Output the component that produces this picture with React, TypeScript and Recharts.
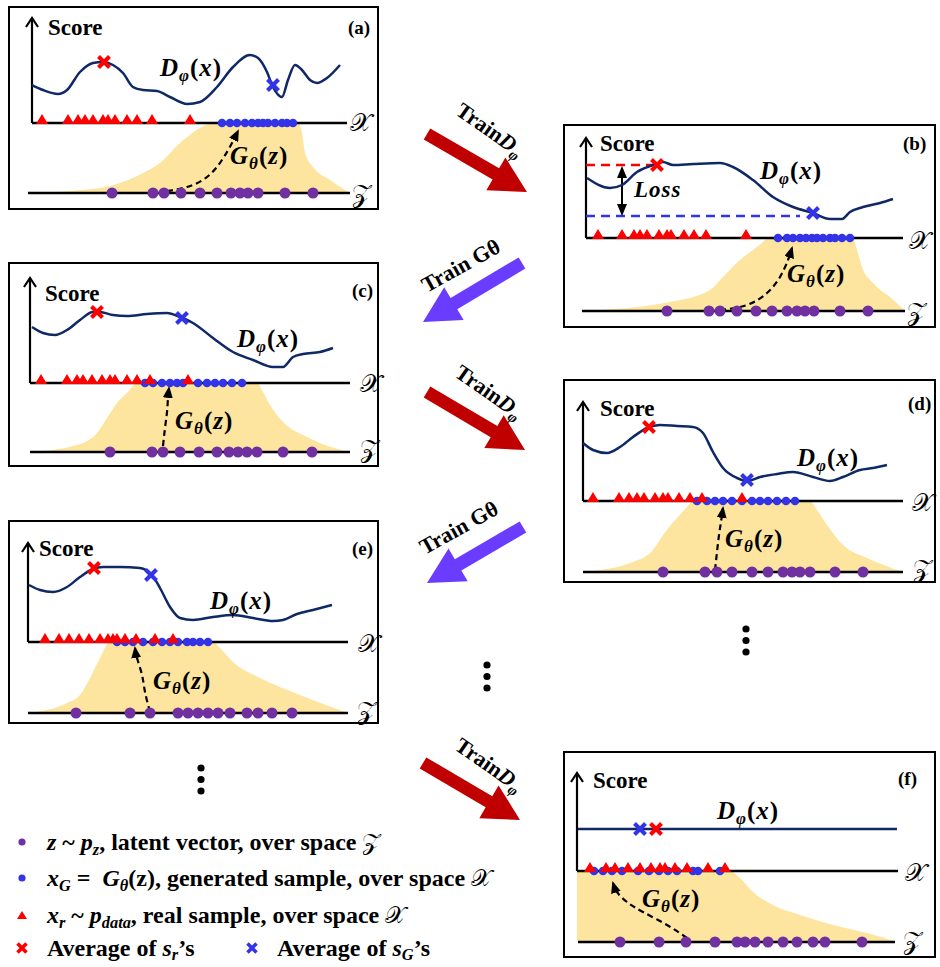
import React from 'react';
import { ComposedChart, XAxis, YAxis, Line, Area, Scatter } from 'recharts';

type Pair = [number, number];

// positions are along the X space line (x) and height above the Z line (y)

// panel (a)
const curveA: Pair[] = [[0, 108], [11, 103], [26, 99], [35, 103], [48, 121], [61, 130], [71, 131], [81, 128], [91, 120], [101, 106], [111, 103], [125, 102], [138, 96], [155, 89], [168, 91], [185, 106], [201, 126], [218, 138], [226, 135], [235, 121], [241, 106], [250, 96], [256, 113], [263, 128], [270, 123], [278, 113], [285, 110], [295, 115], [308, 128]];
const areaA: Pair[] = [[-4, 0], [68, 5], [111, 20], [128, 30], [148, 50], [168, 65], [181, 70], [266, 70], [270, 60], [273, 40], [281, 26], [298, 13], [318, 0]];
const realA = [10, 36, 46, 53, 61, 71, 76, 83, 95, 105, 120, 158];
const genA = [190, 198, 205, 213, 220, 226, 231, 236, 243, 250, 255, 261];
const latentA = [80, 121, 132, 149, 168, 185, 199, 208, 216, 226, 253, 281];
const mapA: Pair[] = [[135, 2], [155, 6], [175, 16], [190, 33], [200, 50], [206, 62]];

// panel (b)
const curveB: Pair[] = [[1, 133], [24, 123], [36, 126], [51, 139], [67, 146], [77, 149], [87, 146], [107, 147], [134, 148], [147, 144], [167, 131], [187, 114], [207, 104], [227, 98], [244, 92], [256, 92], [264, 99], [277, 104], [294, 108], [307, 112]];
const areaB: Pair[] = [[-4, 0], [84, 9], [124, 21], [137, 34], [154, 51], [171, 64], [184, 73], [267, 73], [271, 61], [276, 44], [287, 28], [304, 14], [319, 0]];
const realB = [12, 36, 48, 54, 61, 73, 81, 85, 98, 108, 120, 160];
const genB = [192, 201, 207, 214, 220, 226, 231, 237, 244, 249, 256, 264];
const latentB = [81, 123, 134, 151, 170, 186, 201, 211, 219, 228, 254, 282];
const mapB: Pair[] = [[134, 1], [161, 6], [181, 18], [194, 34], [202, 51], [206, 63]];
const realLevelB: Pair[] = [[0, 146], [71, 146]];
const genLevelB: Pair[] = [[0, 95], [214, 95]];
const lossB: Pair[] = [[36, 97], [36, 143]];

// panel (c)
const curveC: Pair[] = [[2, 125], [13, 119], [25, 117], [37, 122], [50, 132], [63, 140], [70, 140], [83, 137], [97, 136], [117, 138], [137, 139], [150, 135], [163, 129], [183, 114], [203, 100], [223, 92], [243, 85], [253, 85], [263, 95], [273, 98], [290, 100], [303, 104]];
const areaC: Pair[] = [[0, 0], [47, 7], [67, 19], [77, 34], [87, 49], [98, 60], [107, 69], [227, 69], [233, 60], [240, 47], [253, 30], [277, 15], [318, 0]];
const realC = [11, 37, 47, 53, 62, 72, 80, 85, 97, 107, 120, 158];
const genC = [115, 123, 132, 140, 147, 153, 168, 177, 185, 193, 202, 212];
const latentC = [80, 122, 133, 150, 169, 187, 199, 208, 217, 227, 253, 282];
const mapC: Pair[] = [[133, 6], [135, 24], [137, 40], [138, 54], [139, 64]];

// panel (d)
const curveD: Pair[] = [[0, 129], [10, 122], [24, 119], [37, 125], [50, 135], [64, 144], [77, 147], [94, 146], [110, 145], [120, 139], [130, 120], [140, 104], [154, 94], [164, 91], [177, 95], [194, 98], [210, 100], [230, 95], [247, 91], [260, 95], [277, 102], [290, 104], [304, 107]];
const areaD: Pair[] = [[0, 0], [50, 10], [70, 22], [80, 37], [94, 54], [104, 65], [110, 71], [227, 71], [234, 62], [244, 47], [260, 27], [284, 14], [320, 0]];
const realD = [10, 36, 46, 54, 61, 72, 80, 85, 96, 107, 119, 159];
const genD = [114, 124, 132, 140, 149, 159, 169, 177, 185, 194, 203, 212];
const latentD = [80, 122, 134, 149, 169, 185, 200, 209, 217, 227, 252, 280];
const mapD: Pair[] = [[132, 2], [134, 20], [136, 37], [138, 50], [140, 64]];

// panel (e)
const curveE: Pair[] = [[1, 128], [12, 123], [25, 121], [39, 126], [52, 136], [65, 144], [75, 146], [92, 146], [112, 145], [124, 138], [132, 125], [142, 106], [152, 95], [165, 93], [185, 96], [205, 98], [225, 95], [245, 92], [255, 93], [269, 99], [285, 103], [304, 108]];
const areaE: Pair[] = [[0, 0], [39, 10], [52, 18], [62, 35], [72, 55], [82, 71], [185, 71], [192, 65], [205, 51], [232, 35], [272, 18], [320, 0]];
const realE = [17, 31, 41, 51, 61, 72, 80, 85, 89, 97, 108, 127, 145];
const genE = [89, 97, 105, 115, 125, 134, 142, 150, 159, 165, 172, 180];
const latentE = [48, 102, 122, 150, 160, 170, 180, 190, 202, 219, 230, 244, 264];
const mapE: Pair[] = [[122, 1], [117, 21], [114, 38], [109, 55], [107, 65]];

// panel (f)
const curveF: Pair[] = [[1, 113], [320, 113]];
const areaF: Pair[] = [[0, 71], [153, 71], [163, 64], [176, 50], [196, 37], [223, 27], [256, 17], [290, 9], [320, 0]];
const realF = [13, 29, 38, 51, 63, 74, 83, 88, 98, 110, 131, 148];
const genF = [17, 26, 35, 45, 61, 72, 82, 91, 100, 116, 121, 143];
const latentF = [43, 82, 109, 138, 160, 168, 178, 191, 206, 220, 236, 248, 285];
const mapF: Pair[] = [[110, 4], [90, 17], [66, 30], [50, 40], [40, 50], [36, 59]];

const NAVY = '#0f2866';
const RED = '#ff0000';
const BLUE = '#3333e8';
const PURPLE = '#7030a0';
const SAND = '#fde49f';
const DARKRED = '#c00000';
const VIOLET = '#6a3cff';
const SERIF = '"Liberation Serif", "Times New Roman", serif';
const SCRIPT = '"DejaVu Serif", "DejaVu Sans", serif';

const toPts = (a: Pair[]) => a.map(([x, y]) => ({ x, y }));
const onLine = (xs: number[], y: number) => xs.map((x) => ({ x, y }));

interface PanelCfg {
  tag: string;
  left: number; top: number; w: number; h: number;
  ox: number; oy: number;
  level: number; axisTop: number; axisX: number;
  xStart: number; xEnd: number; zStart: number; zEnd: number;
  curve: Pair[]; area: Pair[]; real: number[]; gen: number[]; latent: number[]; map: Pair[];
  avgReal: Pair; avgGen: Pair;
  lab: { score: Pair; tag: Pair; d: Pair; g: Pair; xs: Pair; zs: Pair; loss?: Pair };
  loss?: boolean;
}

const panels: PanelCfg[] = [
  {
    tag: '(a)', left: 8, top: 6, w: 371, h: 204, ox: 32, oy: 193, level: 70, axisTop: 175, axisX: 0,
    xStart: 0, xEnd: 315, zStart: -4, zEnd: 318,
    curve: curveA, area: areaA, real: realA, gen: genA, latent: latentA, map: mapA,
    avgReal: [72, 131], avgGen: [241, 108],
    lab: { score: [40, 21], tag: [340, 21], d: [152, 61], g: [222, 149], xs: [342, 116], zs: [344, 187] },
  },
  {
    tag: '(b)', left: 563, top: 124, w: 373, h: 204, ox: 586, oy: 311, level: 73, axisTop: 173, axisX: 0,
    xStart: 0, xEnd: 317, zStart: -4, zEnd: 319,
    curve: curveB, area: areaB, real: realB, gen: genB, latent: latentB, map: mapB,
    avgReal: [71, 146], avgGen: [227, 98],
    lab: { score: [37, 19], tag: [340, 19], d: [197, 46], g: [224, 149], xs: [346, 116], zs: [344, 187], loss: [71, 65] },
    loss: true,
  },
  {
    tag: '(c)', left: 8, top: 262, w: 371, h: 205, ox: 30, oy: 452, level: 69, axisTop: 174, axisX: 0,
    xStart: 0, xEnd: 320, zStart: 0, zEnd: 320,
    curve: curveC, area: areaC, real: realC, gen: genC, latent: latentC, map: mapC,
    avgReal: [67, 140], avgGen: [152, 134],
    lab: { score: [37, 31], tag: [344, 28], d: [229, 76], g: [167, 158], xs: [352, 121], zs: [352, 186] },
  },
  {
    tag: '(d)', left: 563, top: 379, w: 373, h: 204, ox: 583, oy: 572, level: 71, axisTop: 170, axisX: 0,
    xStart: 0, xEnd: 320, zStart: 0, zEnd: 320,
    curve: curveD, area: areaD, real: realD, gen: genD, latent: latentD, map: mapD,
    avgReal: [66, 145], avgGen: [164, 92],
    lab: { score: [37, 29], tag: [345, 24], d: [234, 78], g: [162, 159], xs: [349, 123], zs: [350, 189] },
  },
  {
    tag: '(e)', left: 8, top: 520, w: 371, h: 204, ox: 28, oy: 713, level: 71, axisTop: 170, axisX: 0,
    xStart: 0, xEnd: 320, zStart: 0, zEnd: 320,
    curve: curveE, area: areaE, real: realE, gen: genE, latent: latentE, map: mapE,
    avgReal: [66, 145], avgGen: [123, 138],
    lab: { score: [31, 28], tag: [344, 28], d: [202, 80], g: [145, 160], xs: [350, 123], zs: [349, 190] },
  },
  {
    tag: '(f)', left: 563, top: 751, w: 373, h: 207, ox: 577, oy: 942, level: 71, axisTop: 169, axisX: 0,
    xStart: 0, xEnd: 321, zStart: 1, zEnd: 318,
    curve: curveF, area: areaF, real: realF, gen: genF, latent: latentF, map: mapF,
    avgReal: [79, 113], avgGen: [63, 113],
    lab: { score: [30, 29], tag: [335, 27], d: [154, 59], g: [79, 147], xs: [342, 121], zs: [340, 189] },
  },
];

// big training arrows
const trainD = [
  { x1: 427, y1: 134, x2: 527, y2: 192, tx: 490, ty: 130 },
  { x1: 427, y1: 392, x2: 525, y2: 450, tx: 489, ty: 392 },
  { x1: 423, y1: 763, x2: 520, y2: 820, tx: 489, ty: 765 },
];
const trainG = [
  { x1: 522, y1: 263, x2: 423, y2: 322, tx: 461, ty: 266 },
  { x1: 523, y1: 527, x2: 427, y2: 583, tx: 459, ty: 528 },
];
const ellipses: Pair[] = [[746, 629], [487, 665], [201, 768]];

const Sub = ({ children, drop = 0.32 }: { children: React.ReactNode; drop?: number }) => (
  <span style={{ fontSize: '0.68em', position: 'relative', top: `${drop}em` }}>{children}</span>
);

const Tri = (props: any) => {
  const { cx, cy } = props;
  return <polygon points={`${cx - 6},${cy + 1} ${cx + 6},${cy + 1} ${cx},${cy - 9}`} fill={RED} />;
};
const Dot = (r: number, color: string) => (props: any) => <circle cx={props.cx} cy={props.cy} r={r} fill={color} />;
const Cross = (color: string) => (props: any) => {
  const { cx, cy } = props;
  const s = 5.5;
  return (
    <g stroke={color} strokeWidth={4}>
      <line x1={cx - s} y1={cy - s} x2={cx + s} y2={cy + s} />
      <line x1={cx - s} y1={cy + s} x2={cx + s} y2={cy - s} />
    </g>
  );
};

function Label({ at, children, size = 23, style }: { at: Pair; children: React.ReactNode; size?: number; style?: React.CSSProperties }) {
  return (
    <div
      style={{
        position: 'absolute', left: at[0] - 2, top: at[1] - 2, transform: 'translateY(-50%)',
        fontFamily: SERIF, fontWeight: 700, fontSize: size, lineHeight: 1, whiteSpace: 'nowrap', ...style,
      }}
    >
      {children}
    </div>
  );
}

function Panel({ cfg }: { cfg: PanelCfg }) {
  const { left, top, w, h, ox, oy, level } = cfg;
  const xDomain = [left + 2 - ox, left + w - 2 - ox];
  const yDomain = [oy - (top + h - 2), oy - (top + 2)];
  const line = (a: Pair[]) => toPts(a);
  const math = { letterSpacing: 1 };
  return (
    <div
      style={{
        position: 'absolute', left, top, width: w, height: h, border: '2px solid #000',
        boxSizing: 'border-box', background: '#fff',
      }}
    >
      <ComposedChart width={w - 4} height={h - 4} margin={{ top: 0, right: 0, bottom: 0, left: 0 }}>
        <XAxis type="number" dataKey="x" domain={xDomain} hide allowDataOverflow />
        <YAxis type="number" dataKey="y" domain={yDomain} hide allowDataOverflow />
        <Area data={toPts(cfg.area)} dataKey="y" type="monotone" baseValue={0} fill={SAND} fillOpacity={1} stroke="none" isAnimationActive={false} />
        <Line data={line([[cfg.xStart, level], [cfg.xEnd, level]])} dataKey="y" stroke="#000" strokeWidth={2.5} dot={false} activeDot={false} isAnimationActive={false} />
        <Line data={line([[cfg.zStart, 0], [cfg.zEnd, 0]])} dataKey="y" stroke="#000" strokeWidth={2.5} dot={false} activeDot={false} isAnimationActive={false} />
        <Line data={line([[cfg.axisX, level], [cfg.axisX, cfg.axisTop]])} dataKey="y" stroke="#000" strokeWidth={2.2} dot={false} activeDot={false} markerEnd="url(#openHead)" isAnimationActive={false} />
        {cfg.loss && (
          <Line data={toPts(realLevelB)} dataKey="y" stroke={RED} strokeWidth={2.5} strokeDasharray="9 6" dot={false} activeDot={false} isAnimationActive={false} />
        )}
        {cfg.loss && (
          <Line data={toPts(genLevelB)} dataKey="y" stroke={BLUE} strokeWidth={2.5} strokeDasharray="9 6" dot={false} activeDot={false} isAnimationActive={false} />
        )}
        {cfg.loss && (
          <Line data={toPts(lossB)} dataKey="y" stroke="#000" strokeWidth={2} dot={false} activeDot={false} markerStart="url(#solidHead)" markerEnd="url(#solidHead)" isAnimationActive={false} />
        )}
        <Line data={toPts(cfg.map)} dataKey="y" type="natural" stroke="#000" strokeWidth={2.2} strokeDasharray="6 4" dot={false} activeDot={false} markerEnd="url(#solidHead)" isAnimationActive={false} />
        <Line data={toPts(cfg.curve)} dataKey="y" type="monotone" stroke={NAVY} strokeWidth={2.5} dot={false} activeDot={false} isAnimationActive={false} />
        <Scatter data={onLine(cfg.latent, 0)} shape={Dot(5.5, PURPLE)} isAnimationActive={false} />
        <Scatter data={onLine(cfg.gen, level)} shape={Dot(4.3, BLUE)} isAnimationActive={false} />
        <Scatter data={onLine(cfg.real, level)} shape={Tri} isAnimationActive={false} />
        <Scatter data={toPts([cfg.avgReal])} shape={Cross(RED)} isAnimationActive={false} />
        <Scatter data={toPts([cfg.avgGen])} shape={Cross(BLUE)} isAnimationActive={false} />
      </ComposedChart>
      <Label at={cfg.lab.score}>Score</Label>
      <Label at={cfg.lab.tag} size={19}>{cfg.tag}</Label>
      <Label at={cfg.lab.d} size={25} style={math}>
        <i>D</i><Sub><i>φ</i></Sub>(<i>x</i>)
      </Label>
      <Label at={cfg.lab.g} size={25} style={math}>
        <i>G</i><Sub><i>θ</i></Sub>(<i>z</i>)
      </Label>
      {cfg.lab.loss && (
        <Label at={cfg.lab.loss} size={23} style={math}>
          <i>Loss</i>
        </Label>
      )}
      <Label at={cfg.lab.xs} size={25} style={{ fontFamily: SCRIPT, fontWeight: 400 }}>𝒳</Label>
      <Label at={cfg.lab.zs} size={25} style={{ fontFamily: SCRIPT, fontWeight: 400 }}>𝒵</Label>
    </div>
  );
}

function BigArrow({ x1, y1, x2, y2, color }: { x1: number; y1: number; x2: number; y2: number; color: string }) {
  const len = Math.hypot(x2 - x1, y2 - y1);
  const ang = (Math.atan2(y2 - y1, x2 - x1) * 180) / Math.PI;
  const hl = 36;
  const hw = 19;
  const sw = 6.5;
  return (
    <polygon
      transform={`translate(${x1},${y1}) rotate(${ang})`}
      points={`0,${-sw} ${len - hl},${-sw} ${len - hl},${-hw} ${len},0 ${len - hl},${hw} ${len - hl},${sw} 0,${sw}`}
      fill={color}
    />
  );
}

function ArrowText({ x, y, rot, children }: { x: number; y: number; rot: number; children: React.ReactNode }) {
  return (
    <div
      style={{
        position: 'absolute', left: x, top: y, transform: `translate(-50%, -50%) rotate(${rot}deg)`,
        fontFamily: SERIF, fontWeight: 700, fontSize: 22, lineHeight: 1, whiteSpace: 'nowrap',
      }}
    >
      {children}
    </div>
  );
}

function LegendRow({ y, icon, children, x = 22 }: { y: number; icon: React.ReactNode; children: React.ReactNode; x?: number }) {
  return (
    <>
      <svg style={{ position: 'absolute', left: x - 7, top: y - 7 }} width={14} height={14}>
        {icon}
      </svg>
      <div
        style={{
          position: 'absolute', left: x + 25, top: y, transform: 'translateY(-50%)',
          fontFamily: SERIF, fontWeight: 700, fontSize: 24, lineHeight: 1, whiteSpace: 'nowrap',
        }}
      >
        {children}
      </div>
    </>
  );
}

const crossIcon = (c: string) => (
  <g stroke={c} strokeWidth={3.5}>
    <line x1={2.5} y1={2.5} x2={11.5} y2={11.5} />
    <line x1={2.5} y1={11.5} x2={11.5} y2={2.5} />
  </g>
);

export default function App() {
  return (
    <div style={{ position: 'absolute', left: 0, top: 0, width: 940, height: 967, background: '#fff', overflow: 'hidden' }}>
      <svg width={0} height={0} style={{ position: 'absolute' }}>
        <defs>
          <marker id="openHead" viewBox="0 0 14 14" refX={12} refY={7} markerWidth={14} markerHeight={14} markerUnits="userSpaceOnUse" orient="auto">
            <path d="M3,1 L12,7 L3,13" fill="none" stroke="#000" strokeWidth={2.2} />
          </marker>
          <marker id="solidHead" viewBox="0 0 12 10" refX={10} refY={5} markerWidth={12} markerHeight={10} markerUnits="userSpaceOnUse" orient="auto-start-reverse">
            <path d="M0,0 L12,5 L0,10 z" fill="#000" />
          </marker>
        </defs>
      </svg>

      {panels.map((p) => (
        <Panel key={p.tag} cfg={p} />
      ))}

      <svg width={940} height={967} style={{ position: 'absolute', left: 0, top: 0, pointerEvents: 'none' }}>
        {trainD.map((a, i) => (
          <BigArrow key={`d${i}`} {...a} color={DARKRED} />
        ))}
        {trainG.map((a, i) => (
          <BigArrow key={`g${i}`} {...a} color={VIOLET} />
        ))}
        {ellipses.map(([x, y], i) => (
          <g key={`e${i}`} fill="#000">
            <circle cx={x} cy={y} r={3.6} />
            <circle cx={x} cy={y + 11.5} r={3.6} />
            <circle cx={x} cy={y + 23} r={3.6} />
          </g>
        ))}
      </svg>

      {trainD.map((a, i) => (
        <ArrowText key={`td${i}`} x={a.tx} y={a.ty} rot={35}>
          Train<i>D</i><Sub><i>φ</i></Sub>
        </ArrowText>
      ))}
      {trainG.map((a, i) => (
        <ArrowText key={`tg${i}`} x={a.tx} y={a.ty} rot={-29}>
          Train Gθ
        </ArrowText>
      ))}

      <LegendRow y={842} icon={<circle cx={7} cy={7} r={3.6} fill={PURPLE} />}>
        <i>z</i> ~ <i>p</i><Sub><i>z</i></Sub>, latent vector, over space <span style={{ fontFamily: SCRIPT, fontWeight: 400 }}>𝒵</span>
      </LegendRow>
      <LegendRow y={878} icon={<circle cx={7} cy={7} r={3.6} fill={BLUE} />}>
        <i>x</i><Sub><i>G</i></Sub> = &nbsp;<i>G</i><Sub><i>θ</i></Sub>(z), generated sample, over space <span style={{ fontFamily: SCRIPT, fontWeight: 400 }}>𝒳</span>
      </LegendRow>
      <LegendRow y={915} icon={<polygon points="2,11 12,11 7,3" fill={RED} />}>
        <i>x</i><Sub><i>r</i></Sub> ~ <i>p</i><Sub><i>data</i></Sub>, real sample, over space <span style={{ fontFamily: SCRIPT, fontWeight: 400 }}>𝒳</span>
      </LegendRow>
      <LegendRow y={948} icon={crossIcon(RED)}>
        Average of <i>s</i><Sub drop={0.22}><i>r</i></Sub>’s
      </LegendRow>
      <LegendRow y={948} x={252} icon={crossIcon(BLUE)}>
        Average of <i>s</i><Sub drop={0.22}><i>G</i></Sub>’s
      </LegendRow>
    </div>
  );
}
